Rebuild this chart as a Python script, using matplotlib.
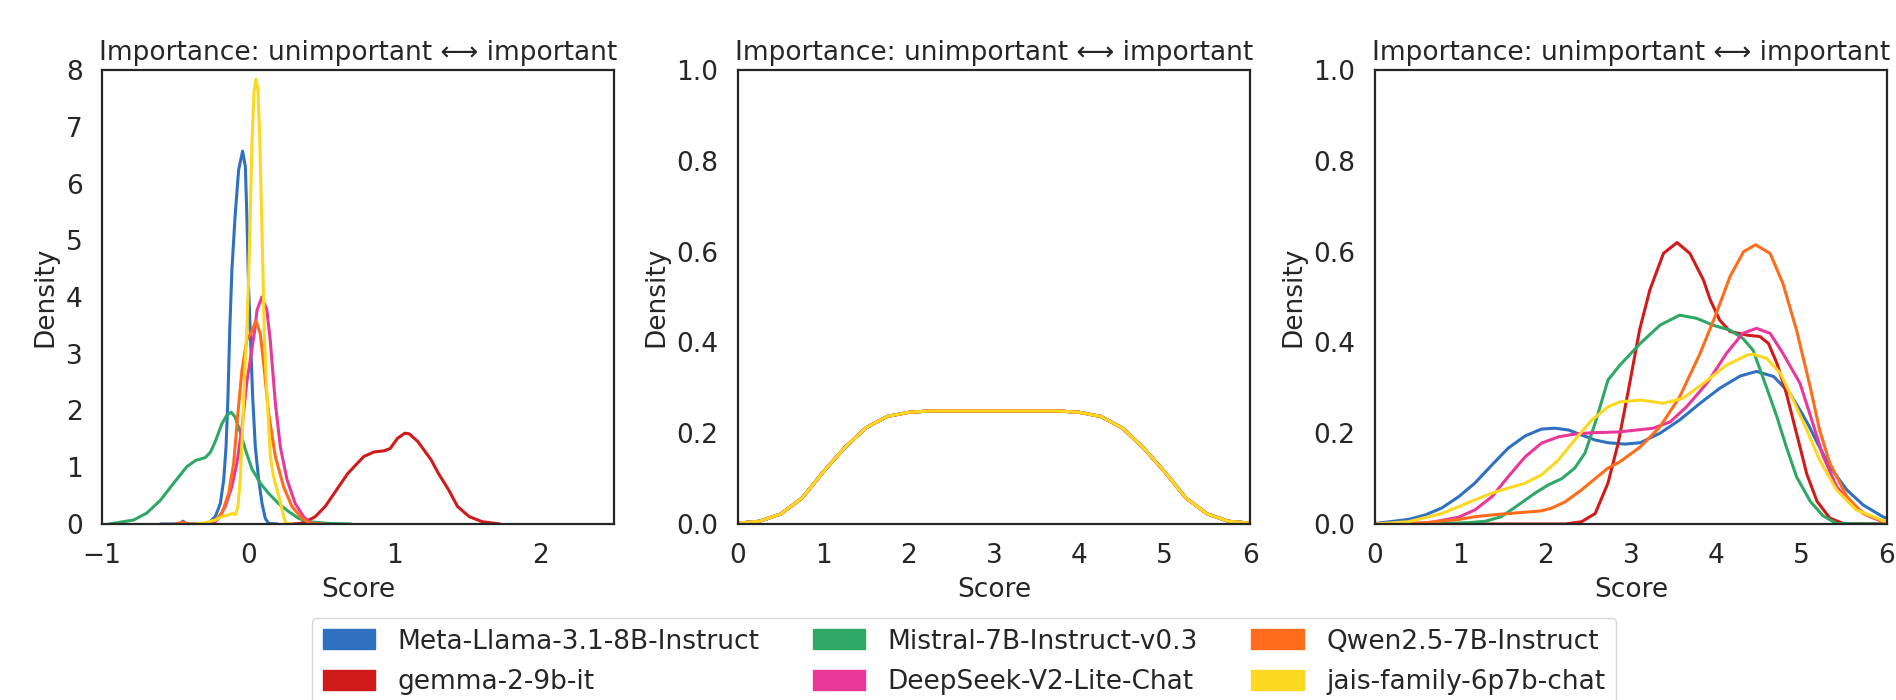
import matplotlib
matplotlib.use("Agg")
import matplotlib.pyplot as plt
from matplotlib.patches import Patch

# ---------------- data ----------------
models = ["Meta-Llama-3.1-8B-Instruct", "gemma-2-9b-it", "Mistral-7B-Instruct-v0.3",
          "DeepSeek-V2-Lite-Chat", "Qwen2.5-7B-Instruct", "jais-family-6p7b-chat"]
colors = ["#2f70c0", "#d11a1a", "#2fa865", "#e8389a", "#ff6d1c", "#fcd822"]
title_text = "Importance: unimportant \u27f7 important"

# Panel 1 density curves (score, density)
p1_llama_x = [-0.6, -0.47, -0.447, -0.42, -0.3, -0.27, -0.226, -0.191, -0.168, -0.152, -0.139, -0.127,
              -0.112, -0.089, -0.066, -0.039, -0.020, -0.009, 0.002, 0.014, 0.030, 0.048, 0.071,
              0.094, 0.116, 0.139, 0.2]
p1_llama_y = [0.0, 0.0, 0.05, 0.0, 0.0, 0.02, 0.13, 0.36, 0.78, 1.36, 2.24, 3.4, 4.48, 5.47, 6.24,
              6.57, 6.30, 5.36, 4.18, 3.35, 2.24, 1.36, 0.78, 0.36, 0.10, 0.01, 0.0]
p1_gemma_x = [0.30, 0.355, 0.40, 0.458, 0.526, 0.595, 0.68, 0.79, 0.86, 0.93, 0.97, 1.02, 1.07,
              1.10, 1.16, 1.25, 1.30, 1.37, 1.43, 1.51, 1.60, 1.72]
p1_gemma_y = [0.0, 0.01, 0.05, 0.13, 0.31, 0.57, 0.89, 1.19, 1.27, 1.29, 1.33, 1.51, 1.60, 1.59,
              1.45, 1.13, 0.89, 0.60, 0.31, 0.13, 0.04, 0.0]
p1_mistral_x = [-0.95, -0.785, -0.695, -0.60, -0.51, -0.42, -0.36, -0.294, -0.26, -0.226, -0.18,
                -0.146, -0.116, -0.089, -0.055, -0.021, 0.025, 0.082, 0.139, 0.207, 0.275, 0.344,
                0.412, 0.549, 0.7]
p1_mistral_y = [0.0, 0.07, 0.19, 0.42, 0.72, 1.01, 1.12, 1.17, 1.26, 1.45, 1.77, 1.92, 1.97, 1.88,
                1.62, 1.32, 0.97, 0.72, 0.54, 0.36, 0.22, 0.10, 0.04, 0.01, 0.0]
p1_deepseek_x = [-0.3, -0.237, -0.203, -0.157, -0.112, -0.078, -0.043, -0.010, 0.020, 0.044, 0.060,
                 0.093, 0.127, 0.150, 0.185, 0.219, 0.265, 0.321, 0.378, 0.424, 0.5]
p1_deepseek_y = [0.0, 0.01, 0.10, 0.31, 0.66, 1.07, 1.70, 2.50, 3.00, 3.42, 3.77, 4.00, 3.77, 3.24,
                 2.13, 1.36, 0.78, 0.36, 0.13, 0.02, 0.0]
p1_qwen_x = [-0.5, -0.45, -0.4, -0.294, -0.226, -0.18, -0.134, -0.10, -0.071, -0.043, -0.010,
             0.025, 0.052, 0.082, 0.105, 0.139, 0.185, 0.241, 0.298, 0.367, 0.424, 0.5]
p1_qwen_y = [0.0, 0.03, 0.0, 0.0, 0.07, 0.19, 0.54, 1.07, 1.95, 2.71, 3.24, 3.40, 3.58, 3.35, 2.83,
             1.95, 1.19, 0.66, 0.31, 0.10, 0.01, 0.0]
p1_jais_x = [-0.36, -0.30, -0.226, -0.18, -0.134, -0.107, -0.089, -0.071, -0.055, -0.039, -0.021,
             -0.010, 0.002, 0.014, 0.025, 0.039, 0.052, 0.066, 0.078, 0.089, 0.100, 0.110, 0.128,
             0.151, 0.173, 0.203, 0.226, 0.242, 0.258, 0.3]
p1_jais_y = [0.0, 0.02, 0.07, 0.13, 0.16, 0.19, 0.16, 0.31, 0.78, 1.66, 2.83, 3.42, 4.30, 5.50,
             6.70, 7.60, 7.84, 7.65, 6.83, 5.65, 4.48, 3.30, 2.24, 1.19, 0.83, 0.54, 0.31, 0.13,
             0.01, 0.0]

# Panel 2: all six models share the same curve
p2_x = [0, 0.25, 0.5, 0.75, 1.0, 1.25, 1.5, 1.75, 2.0, 2.25, 2.5, 3.0, 3.5, 3.75, 4.0, 4.25, 4.5,
        4.75, 5.0, 5.25, 5.5, 5.75, 6.0]
p2_y = [0.002, 0.006, 0.022, 0.057, 0.115, 0.168, 0.212, 0.237, 0.246, 0.249, 0.249, 0.249, 0.249,
        0.249, 0.246, 0.237, 0.212, 0.168, 0.115, 0.057, 0.022, 0.006, 0.002]

# Panel 3 density curves
p3_llama_x = [0, 0.39, 0.59, 0.78, 0.98, 1.17, 1.37, 1.56, 1.76, 1.95, 2.11, 2.27, 2.42, 2.58, 2.73,
              2.93, 3.11, 3.34, 3.57, 3.81, 4.04, 4.28, 4.47, 4.67, 4.86, 4.98, 5.08, 5.18,
              5.33, 5.53, 5.72, 5.96, 6.0]
p3_llama_y = [0.001, 0.010, 0.020, 0.035, 0.060, 0.090, 0.130, 0.167, 0.194, 0.209, 0.211, 0.207,
              0.196, 0.185, 0.179, 0.176, 0.179, 0.200, 0.229, 0.266, 0.299, 0.326, 0.336,
              0.325, 0.288, 0.251, 0.218, 0.180, 0.126, 0.075, 0.042, 0.015, 0.013]
p3_gemma_x = [0, 2.23, 2.42, 2.58, 2.73, 2.85, 2.97, 3.10, 3.22, 3.38, 3.54, 3.69, 3.85, 3.93, 4.04,
              4.16, 4.36, 4.51, 4.61, 4.71, 4.82, 4.98, 5.06, 5.18, 5.33, 5.49, 6.0]
p3_gemma_y = [0.0, 0.0, 0.005, 0.023, 0.09, 0.178, 0.295, 0.427, 0.515, 0.596, 0.62, 0.596, 0.537,
              0.493, 0.449, 0.424, 0.416, 0.413, 0.398, 0.354, 0.288, 0.170, 0.110, 0.050, 0.013,
              0.001, 0.0]
p3_mistral_x = [0, 0.8, 1.1, 1.29, 1.48, 1.68, 1.875, 2.03, 2.19, 2.34, 2.46, 2.58, 2.73, 2.87, 3.11,
                3.34, 3.57, 3.77, 3.96, 4.16, 4.31, 4.43, 4.59, 4.71, 4.82, 4.94, 5.10, 5.25,
                5.41, 6.0]
p3_mistral_y = [0.0, 0.001, 0.003, 0.006, 0.016, 0.042, 0.068, 0.086, 0.10, 0.123, 0.156, 0.222,
                0.317, 0.350, 0.398, 0.438, 0.460, 0.453, 0.438, 0.427, 0.409, 0.383, 0.300,
                0.236, 0.170, 0.104, 0.050, 0.018, 0.001, 0.0]
p3_deepseek_x = [0, 0.59, 0.98, 1.17, 1.37, 1.56, 1.76, 1.95, 2.15, 2.34, 2.54, 2.73, 2.87, 3.26,
                 3.46, 3.65, 3.89, 4.12, 4.31, 4.47, 4.63, 4.78, 4.98, 5.10, 5.25, 5.41, 5.61, 5.80,
                 5.96, 6.0]
p3_deepseek_y = [0.0, 0.001, 0.015, 0.031, 0.06, 0.104, 0.148, 0.178, 0.192, 0.198, 0.201, 0.202,
                 0.203, 0.211, 0.225, 0.258, 0.31, 0.376, 0.42, 0.431, 0.42, 0.376, 0.31, 0.240,
                 0.150, 0.082, 0.038, 0.016, 0.005, 0.004]
p3_qwen_x = [0, 0.59, 0.98, 1.17, 1.37, 1.56, 1.76, 1.95, 2.07, 2.23, 2.42, 2.58, 2.73, 2.87, 3.11,
             3.34, 3.57, 3.81, 4.0, 4.16, 4.32, 4.46, 4.63, 4.78, 4.94, 5.10, 5.21, 5.33,
             5.53, 5.72, 5.96, 6.0]
p3_qwen_y = [0.0, 0.003, 0.010, 0.016, 0.020, 0.023, 0.026, 0.029, 0.035, 0.049, 0.075, 0.10, 0.123,
             0.137, 0.170, 0.214, 0.280, 0.376, 0.464, 0.545, 0.600, 0.615, 0.596, 0.53,
             0.427, 0.302, 0.207, 0.134, 0.06, 0.023, 0.005, 0.004]
p3_jais_x = [0, 0.39, 0.78, 0.98, 1.17, 1.37, 1.56, 1.76, 1.95, 2.15, 2.34, 2.54, 2.73, 2.87, 3.11,
             3.38, 3.61, 3.85, 4.12, 4.36, 4.43, 4.59, 4.75, 4.90, 5.06, 5.21, 5.41, 5.64,
             5.96, 6.0]
p3_jais_y = [0.0, 0.005, 0.023, 0.038, 0.053, 0.068, 0.079, 0.09, 0.108, 0.141, 0.185, 0.229, 0.258,
             0.269, 0.273, 0.266, 0.277, 0.310, 0.350, 0.372, 0.374, 0.365, 0.332, 0.273,
             0.207, 0.141, 0.075, 0.031, 0.007, 0.006]

panel1 = [(p1_llama_x, p1_llama_y), (p1_gemma_x, p1_gemma_y), (p1_mistral_x, p1_mistral_y),
          (p1_deepseek_x, p1_deepseek_y), (p1_qwen_x, p1_qwen_y), (p1_jais_x, p1_jais_y)]
panel2 = [(p2_x, p2_y)] * 6
panel3 = [(p3_llama_x, p3_llama_y), (p3_gemma_x, p3_gemma_y), (p3_mistral_x, p3_mistral_y),
          (p3_deepseek_x, p3_deepseek_y), (p3_qwen_x, p3_qwen_y), (p3_jais_x, p3_jais_y)]

x_limits = [(-1, 2.5), (0, 6), (0, 6)]
y_limits = [(0, 8), (0, 1.0), (0, 1.0)]
x_ticks = [[-1, 0, 1, 2], [0, 1, 2, 3, 4, 5, 6], [0, 1, 2, 3, 4, 5, 6]]
y_ticks = [[0, 1, 2, 3, 4, 5, 6, 7, 8], [0.0, 0.2, 0.4, 0.6, 0.8, 1.0], [0.0, 0.2, 0.4, 0.6, 0.8, 1.0]]

# ---------------- style ----------------
dark = "#262626"
FS = 19
plt.rcParams.update({
    "font.family": ["DejaVu Sans"],
    "font.size": FS,
    "text.color": dark,
    "axes.labelcolor": dark,
    "xtick.color": dark,
    "ytick.color": dark,
    "axes.edgecolor": dark,
    "axes.linewidth": 1.6,
})

fig = plt.figure(figsize=(18.96, 7.0), dpi=100)
W, H = 1896.0, 700.0
lefts = [102, 738, 1375]
ax_w = 512
top, bottom = 70, 524

for i, (data, left) in enumerate(zip([panel1, panel2, panel3], lefts)):
    ax = fig.add_axes([left / W, 1 - bottom / H, ax_w / W, (bottom - top) / H])
    for (xs, ys), c in zip(data, colors):
        ax.plot(xs, ys, color=c, lw=2.2, solid_capstyle="round", solid_joinstyle="round")
    ax.set_xlim(*x_limits[i])
    ax.set_ylim(*y_limits[i])
    ax.set_xticks(x_ticks[i])
    ax.set_yticks(y_ticks[i])
    if i > 0:
        ax.set_yticklabels([f"{v:.1f}" for v in y_ticks[i]])
    ax.tick_params(length=0, pad=14, labelsize=FS)
    ax.set_title(title_text, fontsize=FS, pad=7)
    ax.set_xlabel("Score", fontsize=FS, labelpad=5.5)
    ax.set_ylabel("Density", fontsize=FS, labelpad=5)

handles = [Patch(facecolor=c, edgecolor=c) for c in colors]
fig.legend(handles, models, loc="upper left", bbox_to_anchor=(312 / W, 1 - 618 / H),
           borderaxespad=0, ncol=3, fontsize=FS, frameon=True, handlelength=2.0,
           handleheight=0.8, columnspacing=2.0, handletextpad=0.85, borderpad=0.4,
           labelspacing=0.55, edgecolor="#cccccc", fancybox=True)

fig.savefig("out.png", dpi=100)
